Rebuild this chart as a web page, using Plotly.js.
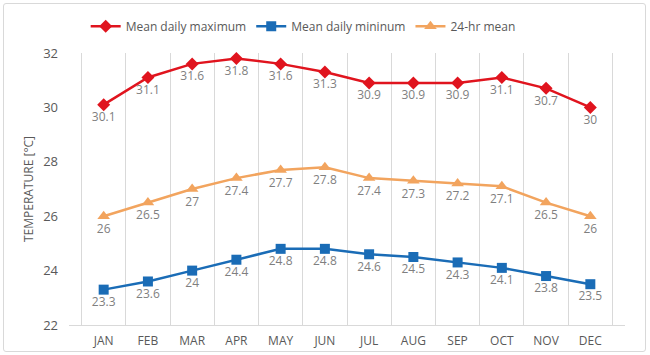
<!DOCTYPE html>
<html>
<head>
<meta charset="utf-8">
<script src="https://cdn.plot.ly/plotly-3.0.1.min.js"></script>
<style>
html,body{margin:0;padding:0;background:#fff;}
#wrap{position:relative;width:650px;height:355px;}
#chart{width:650px;height:355px;}
#frame{position:absolute;left:3px;top:3px;width:641px;height:347px;border:1px solid #d9d9d9;border-radius:3px;pointer-events:none;}
</style>
</head>
<body>
<div id="wrap"><div id="chart"></div><div id="frame"></div></div>
<script>
const months = ["JAN","FEB","MAR","APR","MAY","JUN","JUL","AUG","SEP","OCT","NOV","DEC"];
const meanMax = [30.1,31.1,31.6,31.8,31.6,31.3,30.9,30.9,30.9,31.1,30.7,30];
const meanMin = [23.3,23.6,24,24.4,24.8,24.8,24.6,24.5,24.3,24.1,23.8,23.5];
const mean24 = [26,26.5,27,27.4,27.7,27.8,27.4,27.3,27.2,27.1,26.5,26];
const yTicks = [22,24,26,28,30,32];

const labelFont = {family:"Open Sans, Liberation Sans, sans-serif", size:12, color:"#7f7f7f"};

function series(name, y, color, symbol, msize){
  return {
    x: months, y: y, name: name, type: "scatter", mode: "lines+markers+text",
    line: {color: color, width: 2.5},
    marker: {color: color, symbol: symbol, size: msize},
    text: y.map(v => String(v)),
    textposition: "bottom center",
    textfont: labelFont,
    cliponaxis: false
  };
}

const data = [
  series("Mean daily maximum", meanMax, "#e0141e", "diamond", 10),
  series("Mean daily mininum", meanMin, "#1a6cb6", "square", 10),
  series("24-hr mean", mean24, "#f2a45e", "triangle-up", 11)
];

const layout = {
  width: 650, height: 355,
  margin: {l: 69, r: 25, t: 53, b: 30, autoexpand: false},
  paper_bgcolor: "#fff", plot_bgcolor: "#fff",
  font: {family: "Open Sans, Liberation Sans, sans-serif", color: "#595959"},
  showlegend: true,
  legend: {orientation: "h", x: 0.03, xanchor: "left", y: 1.098, yanchor: "middle",
           font: {family: "Open Sans, sans-serif", size: 12, color: "#595959"}, itemwidth: 30},
  xaxis: {
    type: "category", tickson: "boundaries", showgrid: true, gridcolor: "#d9d9d9", gridwidth: 1,
    ticks: "", showline: true, linecolor: "#d9d9d9", zeroline: false, ticklabelstandoff: 5,
    tickfont: {size: 12, color: "#595959"}, fixedrange: true
  },
  yaxis: {
    range: [22, 32], tickvals: yTicks, showgrid: false, zeroline: false, showline: false,
    ticks: "", tickfont: {size: 13, color: "#595959"}, ticklabelstandoff: 10,
    title: {text: "TEMPERATURE [°C]", font: {size: 12, color: "#595959"}, standoff: 6}
  }
};

Plotly.newPlot("chart", data, layout, {displayModeBar: false, staticPlot: true});
</script>
</body>
</html>
